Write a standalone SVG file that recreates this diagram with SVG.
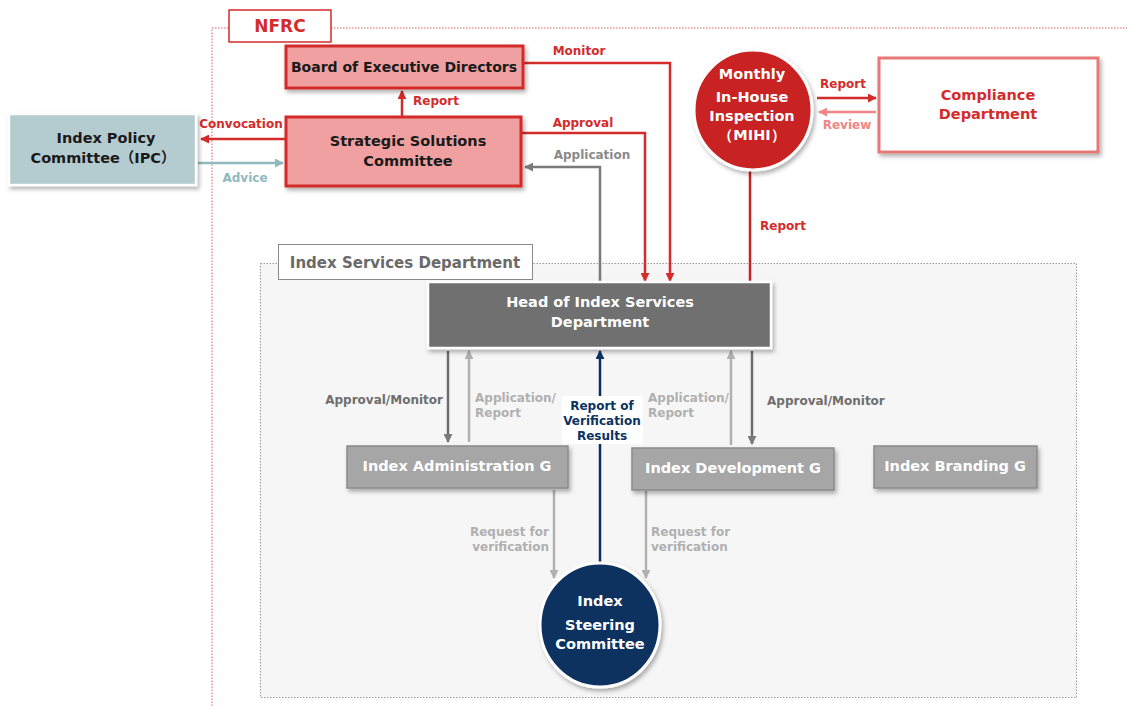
<svg xmlns="http://www.w3.org/2000/svg" width="1127" height="706" viewBox="0 0 1127 706">
<style>
text{font-family:"DejaVu Sans","Liberation Sans",sans-serif;font-weight:bold;text-anchor:middle}
.lbl{font-size:12px}
.red{fill:#d42b2b}
.ltred{fill:#f08585}
.dgray{fill:#6e6e6e}
.lgray{fill:#b0b0b0}
.navy{fill:#0b3260}
.teal{fill:#8fb9be}
.white{fill:#ffffff}
.node{font-size:14.5px}
.c{fill:none;stroke-width:2.5}
</style>
<defs>
<filter id="sh" x="-10%" y="-10%" width="130%" height="140%">
<feDropShadow dx="2" dy="3" stdDeviation="2" flood-color="#000" flood-opacity="0.3"/>
</filter>
<marker id="aRed" viewBox="0 0 10 10" refX="9" refY="5" markerWidth="9" markerHeight="9" markerUnits="userSpaceOnUse" orient="auto"><path d="M0,0L10,5L0,10z" fill="#d42b2b"/></marker>
<marker id="aLtRed" viewBox="0 0 10 10" refX="9" refY="5" markerWidth="9" markerHeight="9" markerUnits="userSpaceOnUse" orient="auto"><path d="M0,0L10,5L0,10z" fill="#f08585"/></marker>
<marker id="aTeal" viewBox="0 0 10 10" refX="9" refY="5" markerWidth="9" markerHeight="9" markerUnits="userSpaceOnUse" orient="auto"><path d="M0,0L10,5L0,10z" fill="#8fb9be"/></marker>
<marker id="aGray" viewBox="0 0 10 10" refX="9" refY="5" markerWidth="9" markerHeight="9" markerUnits="userSpaceOnUse" orient="auto"><path d="M0,0L10,5L0,10z" fill="#7a7a7a"/></marker>
<marker id="aLGray" viewBox="0 0 10 10" refX="9" refY="5" markerWidth="9" markerHeight="9" markerUnits="userSpaceOnUse" orient="auto"><path d="M0,0L10,5L0,10z" fill="#b0b0b0"/></marker>
<marker id="aNavy" viewBox="0 0 10 10" refX="9" refY="5" markerWidth="9" markerHeight="9" markerUnits="userSpaceOnUse" orient="auto"><path d="M0,0L10,5L0,10z" fill="#0b3260"/></marker>
</defs>
<rect width="1127" height="706" fill="#ffffff"/>

<!-- NFRC frame -->
<g id="nfrc">
<path d="M212,706 V28 H229 M331,28 H1127" fill="none" stroke="#e06060" stroke-width="1" stroke-dasharray="1.5,1.5"/>
<rect x="229" y="10" width="102" height="32" fill="#fff" stroke="#d42b2b" stroke-width="1.5"/>
<text x="280" y="32" class="red" style="font-size:17px">NFRC</text>
</g>

<!-- Index Services Department frame -->
<g id="isd">
<rect x="260.5" y="263.5" width="816" height="434" fill="#f6f6f6" stroke="#9a9a9a" stroke-width="1" stroke-dasharray="1.5,1.5"/>
<rect x="278.5" y="244.5" width="254" height="35" fill="#fff" stroke="#8a8a8a" stroke-width="1"/>
<text x="405" y="268" style="font-size:15px;fill:#6a6a6a">Index Services Department</text>
</g>

<!-- connectors -->
<g id="connectors">
<path class="c" d="M285,139 H201" stroke="#d42b2b" marker-end="url(#aRed)"/>
<path class="c" d="M198,163 H283" stroke="#8fb9be" marker-end="url(#aTeal)"/>
<path class="c" d="M402,116 V91" stroke="#d42b2b" marker-end="url(#aRed)"/>
<path class="c" d="M524,63 H670 V281" stroke="#d42b2b" marker-end="url(#aRed)"/>
<path class="c" d="M522,133 H645 V281" stroke="#d42b2b" marker-end="url(#aRed)"/>
<path class="c" d="M600,282 V167 H525" stroke="#7a7a7a" marker-end="url(#aGray)"/>
<path class="c" d="M750,171 V283" stroke="#c82222"/>
<path class="c" d="M817,98 H876" stroke="#d42b2b" marker-end="url(#aRed)"/>
<path class="c" d="M876,112 H819" stroke="#f08585" marker-end="url(#aLtRed)"/>
<path class="c" d="M448,351 V442" stroke="#6e6e6e" marker-end="url(#aGray)"/>
<path class="c" d="M469,442 V351" stroke="#b0b0b0" marker-end="url(#aLGray)"/>
<path class="c" d="M600,565 V351" stroke="#0b3260" marker-end="url(#aNavy)"/>
<path class="c" d="M731,445 V351" stroke="#b0b0b0" marker-end="url(#aLGray)"/>
<path class="c" d="M752,351 V444" stroke="#6e6e6e" marker-end="url(#aGray)"/>
<path class="c" d="M554,490 V578" stroke="#b0b0b0" marker-end="url(#aLGray)"/>
<path class="c" d="M646,491 V578" stroke="#b0b0b0" marker-end="url(#aLGray)"/>

<text x="241" y="128" class="lbl red">Convocation</text>
<text x="245" y="182" class="lbl teal">Advice</text>
<text x="436" y="105" class="lbl red">Report</text>
<text x="579" y="55" class="lbl red">Monitor</text>
<text x="583" y="127" class="lbl red">Approval</text>
<text x="592" y="159" class="lbl" style="fill:#8a8a8a">Application</text>
<text x="843" y="88" class="lbl red">Report</text>
<text x="847" y="129" class="lbl ltred">Review</text>
<text x="783" y="230" class="lbl red">Report</text>
<text x="443" y="404" class="lbl dgray" style="text-anchor:end">Approval/Monitor</text>
<text x="475" y="402" class="lbl lgray" style="text-anchor:start">Application/</text>
<text x="475" y="417" class="lbl lgray" style="text-anchor:start">Report</text>
<rect x="562" y="396" width="81" height="48" fill="#fff"/>
<text x="602" y="410" class="lbl navy">Report of</text>
<text x="602" y="425" class="lbl navy">Verification</text>
<text x="602" y="440" class="lbl navy">Results</text>
<text x="648" y="402" class="lbl lgray" style="text-anchor:start">Application/</text>
<text x="648" y="417" class="lbl lgray" style="text-anchor:start">Report</text>
<text x="767" y="405" class="lbl dgray" style="text-anchor:start">Approval/Monitor</text>
<text x="549" y="536" class="lbl lgray" style="text-anchor:end">Request for</text>
<text x="549" y="551" class="lbl lgray" style="text-anchor:end">verification</text>
<text x="651" y="536" class="lbl lgray" style="text-anchor:start">Request for</text>
<text x="651" y="551" class="lbl lgray" style="text-anchor:start">verification</text>
</g>

<!-- nodes -->
<g id="board">
<rect x="286" y="46" width="237" height="42" fill="#f0a0a0" stroke="#d42b2b" stroke-width="3" filter="url(#sh)"/>
<text x="404" y="72" class="node" style="fill:#1a1a1a;font-size:14px">Board of Executive Directors</text>
</g>
<g id="ssc">
<rect x="286" y="117" width="235" height="69" fill="#f0a0a0" stroke="#d42b2b" stroke-width="3" filter="url(#sh)"/>
<text x="408" y="146" class="node" style="fill:#1a1a1a">Strategic Solutions</text>
<text x="408" y="166" class="node" style="fill:#1a1a1a">Committee</text>
</g>
<g id="ipc">
<rect x="9" y="114" width="187" height="71" fill="#b4cbd0" stroke="#ffffff" stroke-width="2.5" filter="url(#sh)"/>
<text x="106" y="143" class="node" style="fill:#1a1a1a">Index Policy</text>
<text x="103" y="163" class="node" style="fill:#1a1a1a;font-family:'DejaVu Sans','Noto Sans CJK JP',sans-serif">Committee（IPC）</text>
</g>
<g id="mihi">
<ellipse cx="753" cy="110" rx="59" ry="60" fill="#c82222" stroke="#ffffff" stroke-width="3" filter="url(#sh)"/>
<text x="752" y="79" class="node white">Monthly</text>
<text x="752" y="102" class="node white">In-House</text>
<text x="752" y="121" class="node white">Inspection</text>
<text x="752" y="140" class="node white">（MIHI）</text>
</g>
<g id="compliance">
<rect x="879" y="58" width="219" height="94" fill="#ffffff" stroke="#e87878" stroke-width="3" filter="url(#sh)"/>
<text x="988" y="100" class="node red">Compliance</text>
<text x="988" y="119" class="node red">Department</text>
</g>
<g id="head">
<rect x="428" y="282" width="343" height="66" fill="#707070" stroke="#ffffff" stroke-width="2.5" filter="url(#sh)"/>
<text x="600" y="307" class="node white">Head of Index Services</text>
<text x="600" y="327" class="node white">Department</text>
</g>
<g id="admin">
<rect x="347" y="446" width="221" height="42" fill="#a6a6a6" stroke="#8a8a8a" stroke-width="1.5" filter="url(#sh)"/>
<text x="457" y="471" class="node white">Index Administration G</text>
</g>
<g id="dev">
<rect x="632" y="448" width="202" height="42" fill="#a6a6a6" stroke="#8a8a8a" stroke-width="1.5" filter="url(#sh)"/>
<text x="733" y="473" class="node white">Index Development G</text>
</g>
<g id="brand">
<rect x="874" y="446" width="163" height="42" fill="#a6a6a6" stroke="#8a8a8a" stroke-width="1.5" filter="url(#sh)"/>
<text x="955" y="471" class="node white">Index Branding G</text>
</g>
<g id="steering">
<ellipse cx="600" cy="625" rx="60" ry="62" fill="#0b3260" stroke="#ffffff" stroke-width="3" filter="url(#sh)"/>
<text x="600" y="606" class="node white">Index</text>
<text x="600" y="630" class="node white">Steering</text>
<text x="600" y="649" class="node white">Committee</text>
</g>
</svg>
